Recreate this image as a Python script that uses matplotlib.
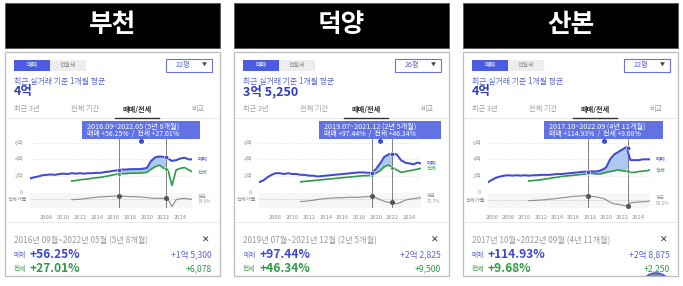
import numpy as np
import matplotlib
matplotlib.use("Agg")
import matplotlib.pyplot as plt
from matplotlib.patches import Rectangle, Circle

plt.rcParams['font.family'] = ['Noto Sans CJK KR', 'DejaVu Sans']

W, H = 683, 286
BLUE = '#4149d6'
GREEN = '#2f9a47'
GRAY = '#8c8c8c'
NAN = np.nan

# ---- data, semiannual samples ----
years = [2005.5, 2006.0, 2006.5, 2007.0, 2007.5, 2008.0, 2008.5, 2009.0, 2009.5, 2010.0,
         2010.5, 2011.0, 2011.5, 2012.0, 2012.5, 2013.0, 2013.5, 2014.0, 2014.5, 2015.0,
         2015.5, 2016.0, 2016.5, 2017.0, 2017.5, 2018.0, 2018.5, 2019.0, 2019.5, 2020.0,
         2020.5, 2021.0, 2021.5, 2022.0, 2022.5, 2023.0, 2023.5, 2024.0, 2024.5, 2025.0,
         2025.4]

titles = ['부천', '덕양', '산본']
sizes = ['22평', '26평', '22평']
prices = ['4억', '3억 5,250', '4억']

# 매매 (억)
sale_bucheon = [NAN, 1.65, 1.8, 1.9, 2.05, 2.1, 2.15, 2.1, 2.2, 2.25,
                2.2, 2.3, 2.25, 2.3, 2.25, 2.3, 2.3, 2.35, 2.35, 2.45,
                2.5, 2.6, 2.65, 2.75, 2.75, 2.8, 2.8, 2.8, 2.85, 2.95,
                3.8, 4.25, 4.35, 4.3, 4.1, 3.8, 3.9, 4.1, 4.2, 4.0, 4.0]
sale_deokyang = [NAN, 1.2, 1.4, 1.8, 2.1, 2.3, 2.3, 2.2, 2.3, 2.2,
                 2.2, 2.1, 2.1, 2.0, 2.0, 1.9, 1.95, 2.0, 2.05, 2.1,
                 2.15, 2.2, 2.25, 2.3, 2.35, 2.4, 2.4, 2.35, 2.35, 2.8,
                 3.5, 4.3, 4.6, 4.7, 4.6, 3.9, 3.6, 3.5, 3.4, 3.6, 3.5]
sale_sanbon = [1.2, 1.5, 1.75, 1.9, 2.0, 2.05, 2.0, 2.05, 2.0, 2.05,
               2.0, 2.05, 2.05, 2.1, 2.1, 2.1, 2.15, 2.2, 2.2, 2.25,
               2.3, 2.35, 2.4, 2.45, 2.5, 2.55, 2.5, 2.55, 2.7, 3.0,
               4.0, 4.6, 4.9, 5.2, 5.5, 3.9, 3.9, 3.9, 4.0, 4.0, 4.0]

# 전세 (억)
jeonse_bucheon = [NAN] * 11 + [1.35, 1.4, 1.5, 1.55, 1.6, 1.7, 1.75, 1.8, 1.9, 2.0,
                               2.1, 2.2, 2.25, 2.25, 2.3, 2.3, 2.3, 2.35, 2.4, 2.8,
                               3.1, 3.3, 2.9, 2.8, 0.8, 2.7, 2.9, 3.0, 2.7, 2.5]
jeonse_deokyang = [NAN] * 11 + [1.25, 1.3, 1.35, 1.4, 1.45, 1.5, 1.55, 1.6, 1.65, 1.7,
                                1.75, 1.8, 1.85, 1.9, 1.95, 2.0, 2.0, 2.05, 2.3, 2.6,
                                3.1, 3.3, 3.0, 2.7, 2.4, 2.5, 2.6, 2.7, 2.8, 2.9]
jeonse_sanbon = [NAN] * 10 + [1.35, 1.4, 1.45, 1.5, 1.6, 1.65, 1.75, 1.8, 1.9, 1.95,
                              2.0, 2.05, 2.1, 2.15, 2.2, 2.3, 2.25, 2.2, 2.25, 2.4,
                              2.5, 2.6, 2.7, 2.6, 2.55, 2.4, 2.4, 2.5, 2.55, 2.6, 2.7]

# 전세가율 (%)
ratio_bucheon = [NAN] * 11 + [72, 73, 74, 76, 78, 80, 82, 83, 84, 85,
                              86, 86, 86, 85, 84, 84, 83, 82, 80, 78,
                              77, 78, 77, 76, 45, 72, 76, 77, 75, 74]
ratio_deokyang = [NAN] * 11 + [65, 66, 68, 70, 73, 75, 77, 78, 79, 80,
                               80, 81, 82, 81, 82, 83, 84, 85, 80, 72,
                               66, 62, 58, 57, 62, 70, 74, 76, 79, 80]
ratio_sanbon = [NAN] * 10 + [68, 69, 70, 71, 72, 74, 75, 77, 79, 81,
                             83, 85, 86, 87, 88, 86, 84, 82, 78, 72,
                             62, 56, 54, 51, 48, 60, 62, 63, 64, 65, 67]
ratio_avg = [74.6, 75.7, 69.2]

# selected period (start, end) and values at its ends
sel_years = [(2016.67, 2022.33), (2019.5, 2021.92), (2017.75, 2022.67)]
sel_sale = [(2.72, 4.25), (2.34, 4.63), (2.51, 5.40)]
sel_jeonse = [(2.25, 2.86), (2.05, 3.00), (2.32, 2.55)]
sel_ratio = [(86, 77), (85, 64), (88, 48)]

period_short = ['2016.09~2022.05 (5년 8개월)', '2019.07~2021.12 (2년 5개월)',
                '2017.10~2022.09 (4년 11개월)']
pct_line = ['매매 +56.25%  /  전세 +27.01%', '매매 +97.44%  /  전세 +46.34%',
            '매매 +114.93%  /  전세 +9.68%']
period_long = ['2016년 09월~2022년 05월 (5년 8개월)', '2019년 07월~2021년 12월 (2년 5개월)',
               '2017년 10월~2022년 09월 (4년 11개월)']
sale_pct = ['+56.25%', '+97.44%', '+114.93%']
jeonse_pct = ['+27.01%', '+46.34%', '+9.68%']
sale_diff = ['+1억 5,300', '+2억 2,825', '+2억 8,875']
jeonse_diff = ['+6,078', '+9,500', '+2,250']
xtick_years = [[2008, 2010, 2012, 2014, 2016, 2018, 2020, 2022, 2024],
               [2008, 2010, 2012, 2014, 2016, 2018, 2020, 2022, 2024],
               [2006, 2008, 2010, 2012, 2014, 2016, 2018, 2020, 2022, 2024]]

sales = [sale_bucheon, sale_deokyang, sale_sanbon]
jeonses = [jeonse_bucheon, jeonse_deokyang, jeonse_sanbon]
ratios = [ratio_bucheon, ratio_deokyang, ratio_sanbon]

# layout (pixels)
card_x = [5, 234, 463]
card_w = 215
tip_x = [82, 319, 544]
tip_w = [118, 122, 119]

fig = plt.figure(figsize=(W / 100, H / 100), dpi=100)
bg = fig.add_axes([0, 0, 1, 1])
bg.set_xlim(0, W)
bg.set_ylim(H, 0)
bg.axis('off')


def px_axes(x0, x1, ytop, ybot):
    return fig.add_axes([x0 / W, 1 - ybot / H, (x1 - x0) / W, (ybot - ytop) / H])


def t(x, y, s, size, color, weight='normal', ha='left', va='center', **kw):
    bg.text(x, y, s, fontsize=size, color=color, fontweight=weight, ha=ha, va=va, **kw)


x = np.array(years)

for i in range(3):
    ox = card_x[i]
    # title box
    bg.add_patch(Rectangle((ox, 3), card_w, 45, fc='black', ec='#555555', lw=0.6))
    t(ox + card_w / 2, 25, titles[i], 18.5, 'white', weight='bold', ha='center')
    # card
    card = Rectangle((ox, 52), card_w, 224, fc='white', ec='#bdbdbd', lw=0.9)
    bg.add_patch(card)

    # buttons
    bg.add_patch(Rectangle((ox + 9, 60), 36, 11, fc='#4c5ce0', ec='none'))
    t(ox + 27, 65.5, '매매', 4.3, 'white', ha='center')
    bg.add_patch(Rectangle((ox + 45, 60), 36, 11, fc='#ededed', ec='none'))
    t(ox + 63, 65.5, '전월세', 4.3, '#8a8a8a', ha='center')
    bg.add_patch(Rectangle((ox + 161, 58.5), 46, 13.5, fc='white', ec='#6a74dc', lw=0.8))
    t(ox + 178, 65.3, sizes[i], 5.2, '#5a64d8', ha='center')
    t(ox + 199, 64.8, '▼', 3.6, '#444444', ha='center')

    t(ox + 9, 81.5, '최근 실거래 기준 1개월 평균', 5.7, '#5c68dc')
    t(ox + 9, 91.5, prices[i], 9, '#2f3cc0', weight='bold')

    # tabs
    t(ox + 22, 109.5, '최근 3년', 5.2, '#a0a0a0', ha='center')
    t(ox + 80, 109.5, '전체 기간', 5.2, '#a0a0a0', ha='center')
    t(ox + 132, 109.5, '매매/전세', 5.2, '#333333', ha='center', weight='bold')
    t(ox + 193, 109.5, '비교', 5.2, '#a0a0a0', ha='center')
    bg.plot([ox + 1, ox + card_w - 1], [118, 118], color='#e4e4e4', lw=0.6)
    bg.plot([ox + 110, ox + 154], [117.5, 117.5], color='#333333', lw=1.0)

    # tooltip
    bg.add_patch(Rectangle((tip_x[i], 121), tip_w[i], 18, fc='#5666e2', ec='none', alpha=0.93))
    t(tip_x[i] + 5, 126.3, period_short[i], 5.2, 'white')
    t(tip_x[i] + 5, 134.0, pct_line[i], 5.0, 'white')
    bg.plot(tip_x[i] + tip_w[i] / 2, 140.8, marker='o', ms=2.6, color='#3e4acc')

    # main chart
    ax = px_axes(ox + 25, ox + 187, 143, 192)
    ax2 = px_axes(ox + 25, ox + 187, 192.5, 208)
    sale = np.array(sales[i], dtype=float)
    jeon = np.array(jeonses[i], dtype=float)
    rat = np.array(ratios[i], dtype=float)
    x_first = x[~np.isnan(sale)][0]
    for a in (ax, ax2):
        a.set_xlim(x_first, years[-1])
        for sp in a.spines.values():
            sp.set_visible(False)
    ax.patch.set_alpha(0)
    ax.set_ylim(0, 6)
    for v in (0, 2, 4, 6):
        ax.axhline(v, color='#d6d6d6', lw=0.5, ls=(0, (1, 1.5)), zorder=0)
    ax.set_yticks([0, 2, 4, 6])
    ax.set_yticklabels(['0', '2억', '4억', '6억'])
    ax.set_xticks([])
    ax.tick_params(axis='y', length=0, pad=5, labelsize=4.2, labelcolor='#9a9a9a')

    s0, s1 = sel_years[i]
    fill = ax.fill_between(x, sale, jeon, color='#a3c4ef', alpha=0.9, lw=0, zorder=1)
    fill.set_clip_path(Rectangle((s0, -1), s1 - s0, 10, transform=ax.transData))
    ax.plot(x, jeon, color=GREEN, lw=1.2, zorder=3)
    ax.plot(x, sale, color=BLUE, lw=1.45, zorder=4)
    for s in (s0, s1):
        ax.axvline(s, 0, (192 - 139) / 49, clip_on=False, color='#6a6a6a', lw=0.6, zorder=2)
        ax2.axvline(s, color='#6a6a6a', lw=0.6, zorder=2)
    ax.plot([s0, s1], sel_jeonse[i], 'o', ms=2.6, color=GREEN, mec='white', mew=0.4, zorder=5)
    ax.plot([s0, s1], sel_sale[i], 'o', ms=3.2, color=BLUE, mec='white', mew=0.4, zorder=6)
    ax.annotate('매매', xy=(years[-1], sale[-1]), xytext=(4, 0), textcoords='offset points',
                fontsize=3.8, color=BLUE, va='center', annotation_clip=False)
    ax.annotate('전세', xy=(years[-1], jeon[-1]), xytext=(4, 0), textcoords='offset points',
                fontsize=3.8, color=GREEN, va='center', annotation_clip=False)

    # 전세가율 strip
    ax2.set_facecolor('#f6f6f6')
    ax2.set_ylim(40, 100)
    ax2.axhline(ratio_avg[i], color='#b0b0b0', lw=0.5, ls=(0, (1, 1.5)), zorder=1)
    ax2.plot(x, rat, color=GRAY, lw=0.8, zorder=3)
    ax2.plot([s0, s1], sel_ratio[i], 'o', ms=2.6, color='#555555', zorder=4)
    ax2.set_yticks([])
    ax2.set_xticks(xtick_years[i])
    ax2.tick_params(axis='x', length=0, pad=5, labelsize=4.2, labelcolor='#8f8f8f')
    ax2.annotate('전세가율', xy=(0, ratio_avg[i]), xycoords=('axes fraction', 'data'),
                 xytext=(-2, 0), textcoords='offset points', ha='right', va='center',
                 fontsize=3.8, color='#8a8a8a', annotation_clip=False)
    ax2.annotate('평균\n%.1f%%' % ratio_avg[i], xy=(1, ratio_avg[i]),
                 xycoords=('axes fraction', 'data'), xytext=(4, 0), textcoords='offset points',
                 ha='left', va='center', fontsize=3.4, color='#a0a0a0', linespacing=1.2,
                 annotation_clip=False)

    # bottom summary
    bg.plot([ox + 1, ox + card_w - 1], [222, 222], color='#e8e8e8', lw=0.6)
    t(ox + 9, 241, period_long[i], 5.9, '#9a9a9a')
    t(ox + 201, 240, '✕', 6.5, '#333333', ha='center', weight='bold')
    t(ox + 9, 255, '매매', 4.8, '#5a64d8')
    t(ox + 25, 255, sale_pct[i], 8.6, '#3d48d0', weight='bold')
    t(ox + 207, 255, sale_diff[i], 6.2, '#5a64d8', ha='right')
    t(ox + 9, 268.5, '전세', 4.8, GREEN)
    t(ox + 25, 268.5, jeonse_pct[i], 8.6, GREEN, weight='bold')
    t(ox + 207, 268.5, jeonse_diff[i], 6.2, GREEN, ha='right')

# floating button partly visible at the bottom of the last card
btn = Circle((656, 288), 15, fc='#8a8a8a', ec='#4c58e0', lw=1.2)
bg.add_patch(btn)
btn.set_clip_path(Rectangle((463, 52), card_w, 224, transform=bg.transData))

fig.savefig('out.png', dpi=100, facecolor='white')
